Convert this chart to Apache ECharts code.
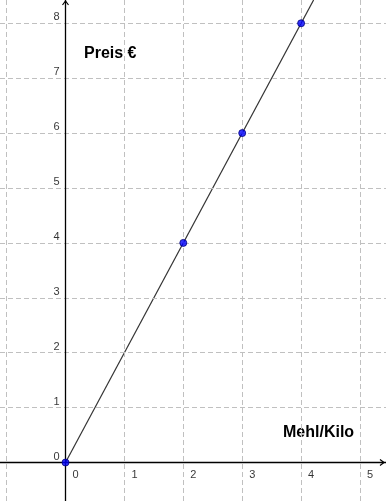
<!DOCTYPE html>
<html><head><meta charset="utf-8">
<script src="https://cdn.jsdelivr.net/npm/echarts@6/dist/echarts.min.js"></script>
<style>html,body{margin:0;padding:0;background:#fff}#c{width:386px;height:501px}</style>
</head><body><div id="c"></div>
<script>
const mehl = [0, 2, 3, 4];
const preis = [0, 4, 6, 8];
const xTicks = [-1, 0, 1, 2, 3, 4, 5];
const yTicks = [0, 1, 2, 3, 4, 5, 6, 7, 8];
const xLabels = [0, 1, 2, 3, 4, 5];
const yLabels = [0, 1, 2, 3, 4, 5, 6, 7, 8];
const xTitle = 'Mehl/Kilo';
const yTitle = 'Preis €';

const X_MIN = -1.112, X_MAX = 5.441, Y_MIN = -0.701, Y_MAX = 8.424;
const slope = preis[preis.length - 1] / mehl[mehl.length - 1];

const chart = echarts.init(document.getElementById('c'));
const gridStyle = { color: '#c0c0c0', type: [5, 3], width: 1 };
const font = '"Liberation Sans", Arial, sans-serif';

chart.setOption({
  animation: false,
  grid: { left: 0, right: 0, top: 0, bottom: 0 },
  xAxis: { type: 'value', min: X_MIN, max: X_MAX, show: false },
  yAxis: { type: 'value', min: Y_MIN, max: Y_MAX, show: false },
  series: [
    {
      type: 'line', data: [], silent: true,
      markLine: {
        silent: true, symbol: 'none', label: { show: false },
        lineStyle: gridStyle,
        data: xTicks.map(v => ({ xAxis: v })).concat(yTicks.map(v => ({ yAxis: v })))
      }
    },
    {
      type: 'line', data: [], silent: true,
      markLine: {
        silent: true, label: { show: false }, symbol: 'none',
        lineStyle: { color: '#000', type: 'solid', width: 1.3 },
        data: [
          [{ coord: [X_MIN, 0] }, { coord: [X_MAX, 0] }],
          [{ coord: [0, Y_MIN] }, { coord: [0, Y_MAX] }]
        ]
      }
    },
    {
      type: 'line', silent: true, showSymbol: false,
      lineStyle: { color: '#333', width: 1.2 },
      data: [[mehl[0], preis[0]], [Y_MAX / slope, Y_MAX]]
    },
    {
      type: 'scatter', silent: true, symbolSize: 7,
      itemStyle: { color: '#0000ff', borderColor: '#00007a', borderWidth: 1 },
      data: mehl.map((m, i) => [m, preis[i]]),
      z: 5
    },
    {
      type: 'scatter', silent: true, symbolSize: 0,
      data: xLabels.map(v => [v, 0]),
      label: { show: true, position: 'insideTopLeft', offset: [2, 2],
        formatter: p => String(p.value[0]), color: '#000', fontSize: 11, fontFamily: font,
        align: 'left', verticalAlign: 'top' }
    },
    {
      type: 'scatter', silent: true, symbolSize: 0,
      data: yLabels.map(v => [0, v]),
      label: { show: true, position: 'left', offset: [-1, -6],
        formatter: p => String(p.value[1]), color: '#000', fontSize: 11, fontFamily: font,
        align: 'right', verticalAlign: 'middle' }
    }
  ],
  graphic: [
    { type: 'text', left: 84, top: 46, style: { text: yTitle, fill: '#000', font: 'bold 16px ' + font } },
    { type: 'text', left: 283, top: 425, style: { text: xTitle, fill: '#000', font: 'bold 16px ' + font } }
  ]
});

// axis arrowheads placed through the chart's own scales
const yTip = chart.convertToPixel({ gridIndex: 0 }, [0, Y_MAX]);
const xTip = chart.convertToPixel({ gridIndex: 0 }, [X_MAX, 0]);
const ty = [yTip[0], yTip[1] + 1];
const tx = [xTip[0] - 2, xTip[1]];
chart.setOption({
  graphic: [
    { type: 'text', left: 84, top: 46, style: { text: yTitle, fill: '#000', font: 'bold 16px ' + font } },
    { type: 'text', left: 283, top: 425, style: { text: xTitle, fill: '#000', font: 'bold 16px ' + font } },
    { type: 'polyline', z: 100, shape: { points: [[ty[0] - 3, ty[1] + 4], ty, [ty[0] + 3, ty[1] + 4]] },
      style: { stroke: '#000', lineWidth: 1.2, fill: null } },
    { type: 'polyline', z: 100, shape: { points: [[tx[0] - 4, tx[1] - 3], tx, [tx[0] - 4, tx[1] + 3]] },
      style: { stroke: '#000', lineWidth: 1.2, fill: null } }
  ]
});
</script></body></html>
